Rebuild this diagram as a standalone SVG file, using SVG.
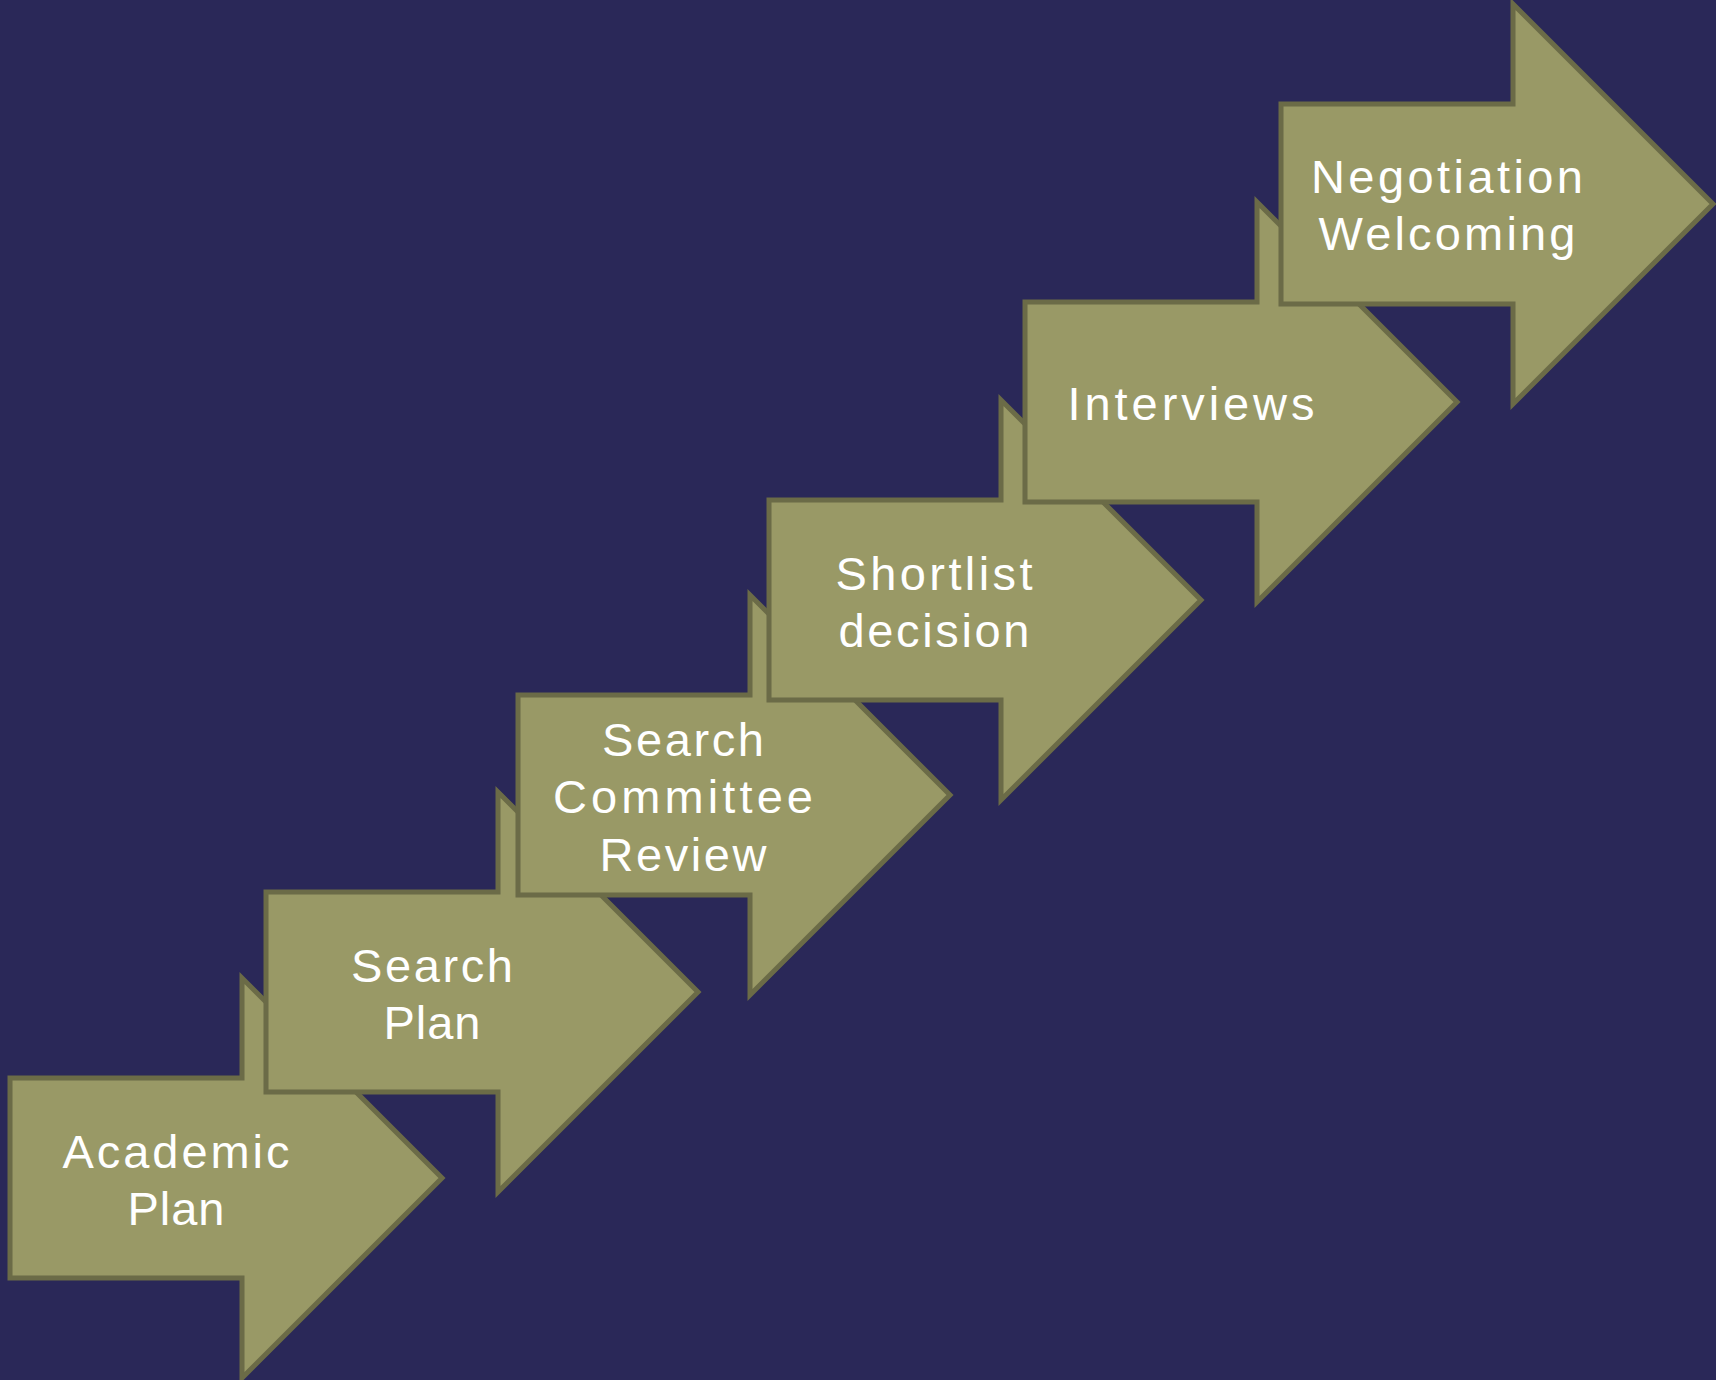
<svg xmlns="http://www.w3.org/2000/svg" width="1716" height="1380" viewBox="0 0 1716 1380">
<style>
.arrow{fill:#999966;stroke:#6b6b47;stroke-width:5;stroke-linejoin:miter}
.lbl{font-family:"Liberation Sans",Arial,sans-serif;font-size:47px;fill:#ffffff;text-anchor:middle}
</style>
<rect width="1716" height="1380" fill="#2a2858"/>
<g id="connectors"/>
<g id="node-academic-plan">
<polygon class="arrow" points="10,1078 242,1078 242,978 442,1178 242,1378 242,1278 10,1278"/>
<text class="lbl" x="176" y="1168" textLength="227" lengthAdjust="spacing">Academic</text>
<text class="lbl" x="176" y="1225" textLength="97" lengthAdjust="spacing">Plan</text>
</g>
<g id="node-search-plan">
<polygon class="arrow" points="266,892 498,892 498,792 698,992 498,1192 498,1092 266,1092"/>
<text class="lbl" x="432" y="982" textLength="162" lengthAdjust="spacing">Search</text>
<text class="lbl" x="432" y="1039" textLength="97" lengthAdjust="spacing">Plan</text>
</g>
<g id="node-search-committee-review">
<polygon class="arrow" points="518,695 750,695 750,595 950,795 750,995 750,895 518,895"/>
<text class="lbl" x="683" y="756" textLength="162" lengthAdjust="spacing">Search</text>
<text class="lbl" x="683" y="813" textLength="260" lengthAdjust="spacing">Committee</text>
<text class="lbl" x="683" y="871" textLength="167" lengthAdjust="spacing">Review</text>
</g>
<g id="node-shortlist-decision">
<polygon class="arrow" points="769,500 1001,500 1001,400 1201,600 1001,800 1001,700 769,700"/>
<text class="lbl" x="934" y="590" textLength="197" lengthAdjust="spacing">Shortlist</text>
<text class="lbl" x="934" y="647" textLength="191" lengthAdjust="spacing">decision</text>
</g>
<g id="node-interviews">
<polygon class="arrow" points="1025,302 1257,302 1257,202 1457,402 1257,602 1257,502 1025,502"/>
<text class="lbl" x="1191" y="420" textLength="247" lengthAdjust="spacing">Interviews</text>
</g>
<g id="node-negotiation-welcoming">
<polygon class="arrow" points="1281,104 1513,104 1513,4 1713,204 1513,404 1513,304 1281,304"/>
<text class="lbl" x="1447" y="193" textLength="272" lengthAdjust="spacing">Negotiation</text>
<text class="lbl" x="1447" y="250" textLength="257" lengthAdjust="spacing">Welcoming</text>
</g>
</svg>
